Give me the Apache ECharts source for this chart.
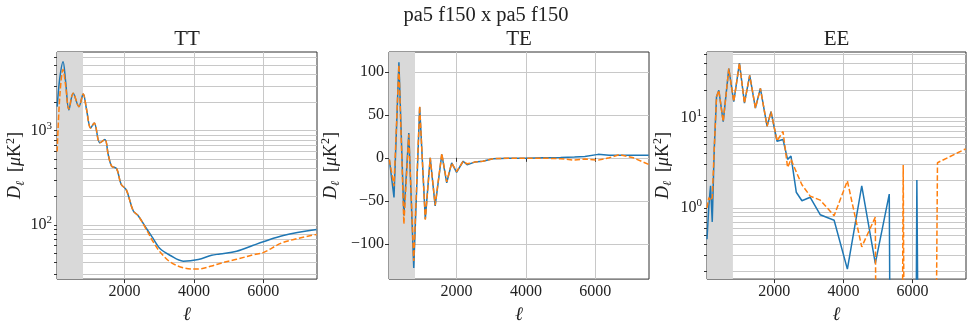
<!DOCTYPE html>
<html>
<head>
<meta charset="utf-8">
<script src="https://cdn.jsdelivr.net/npm/echarts@6/dist/echarts.min.js"></script>
<style>
  html, body { margin: 0; background: #fff; }
  #main { width: 972px; height: 329px; }
</style>
</head>
<body>
<div id="main"></div>
<script>
// multipole bins and D_ell values
const ttEll = [55, 130, 225, 300, 392, 517, 681, 805, 900, 1020, 1123, 1287, 1431, 1527, 1625, 1769, 1900, 2050, 2248, 2392, 2635, 2825, 3019, 3307, 3691, 4124, 4511, 4750, 5232, 5712, 6000, 6577, 7541];
const ttBlue = [1800, 3600, 5400, 3300, 1660, 2500, 1800, 2450, 1700, 1070, 1205, 742, 804, 559, 421, 396, 270, 235, 141, 125, 90.8, 71.3, 55.9, 47.5, 41.1, 42.8, 47.5, 49, 52.4, 60.6, 66, 77, 89];
const ttOrange = [600, 2300, 4460, 3000, 1700, 2500, 1800, 2450, 1700, 1070, 1205, 742, 804, 559, 421, 396, 270, 235, 141, 125, 88, 65.8, 51.7, 40.5, 35, 33.9, 36.5, 38.9, 43, 48, 50.7, 65, 79];

const teEll = [60, 194, 336, 479, 621, 764, 935, 1097, 1239, 1382, 1573, 1715, 1858, 2000, 2189, 2302, 2521, 2758, 3043, 3500, 4000, 4500, 5000, 5400, 5700, 6083, 6400, 6700, 7100, 7541];
const teBlue = [-2, -46, 111, -67, 28.7, -128, 59, -71, 0, -56, 4, -29, -6, -17, -4, -8, -5, -4, -1, -0.5, -0.5, 0, 0.5, 1, 1.5, 4, 3, 3, 3, 3];
const teOrange = [-2, -33, 108, -77, 27, -120, 60, -72, 0, -55, 5, -28, -6, -16, -4, -7, -5, -4, -1, -0.5, -0.5, -0.5, -1, -2.7, -1.5, -2.7, 0, 3.8, 0, -7.7];

const eeEll = [50, 104, 153, 202, 260, 326, 393, 519, 681, 825, 990, 1134, 1287, 1452, 1596, 1789, 1904, 2078, 2251, 2384, 2482, 2635, 2799, 3039, 3328, 3731, 4115, 4531, 4924, 5328, 5732, 6127, 6724, 7541];
const eeBlue = [0.45, 1.06, 1.75, 0.7, 4.5, 17, 20, 9, 34.7, 15, 40, 14.4, 29.3, 12.7, 21, 8, 11.6, 5.46, 5.7, 3.44, 3.74, 1.49, 1.2, 1.31, 0.84, 0.73, 0.21, 1.75, 0.243, 1.42, -1, 2.04, -1, -1];
const eeOrange = [1.0, 1.3, 1.2, 1.3, 4.5, 17, 20, 9, 34.7, 15, 40, 14.4, 29.3, 12.7, 21, 8, 11.6, 5.5, 7.0, 2.8, 3.44, 2.5, 1.8, 1.35, 1.22, 0.82, 1.99, 0.37, 0.79, -1, 2.98, -1, 3.16, 4.5];

const ellMin = 50, ellMax = 7550, shadeMax = 800;
const xTicks = [2000, 4000, 6000];
const teTicks = [-100, -50, 0, 50, 100];

const FONT = 'Liberation Serif';
const BLUE = '#1f77b4', ORANGE = '#ff7f0e';
const GRIDC = '#c8c8c8';
const TXT = '#222';

// matplotlib style log grid: 1..9 x 10^n inside [lo, hi]
function logGrid(lo, hi) {
  const out = [];
  for (let e = Math.floor(Math.log10(lo)); e <= Math.ceil(Math.log10(hi)); e++) {
    for (let m = 1; m < 10; m++) {
      const v = m * Math.pow(10, e);
      if (v >= lo && v <= hi) out.push(+v.toPrecision(3));
    }
  }
  return out;
}
function logMajors(lo, hi) {
  return logGrid(lo, hi).filter(v => Math.abs(Math.log10(v) - Math.round(Math.log10(v))) < 1e-9);
}

// log scale clips non-positive values, like matplotlib does
function pts(ell, vals, isLog) {
  return ell.map((l, i) => [l, isLog && vals[i] <= 0 ? 1e-30 : vals[i]]);
}

const panels = [
  { key: 'TT', left: 57, width: 260, log: true, yMin: 26.5, yMax: 6850, ell: ttEll, blue: ttBlue, orange: ttOrange, nameGap: 30, smooth: 0.35 },
  { key: 'TE', left: 389, width: 260, log: false, yMin: -141, yMax: 123, ell: teEll, blue: teBlue, orange: teOrange, nameGap: 47, smooth: false },
  { key: 'EE', left: 707, width: 259, log: true, yMin: 0.163, yMax: 53, ell: eeEll, blue: eeBlue, orange: eeOrange, nameGap: 33, smooth: false }
];
const gridTop = 52, gridH = 229;

const grid = [], xAxis = [], yAxis = [], series = [], graphic = [];

graphic.push({
  type: 'text', x: 486, y: 5,
  style: { text: 'pa5 f150 x pa5 f150', font: '20.5px "' + FONT + '"', fill: TXT, textAlign: 'center' }
});

const tickRich = {
  b: { fontFamily: FONT, fontSize: 16, color: TXT, lineHeight: 20 },
  s: { fontFamily: FONT, fontSize: 11, color: TXT, verticalAlign: 'top', lineHeight: 20 }
};
const nameRich = {
  i: { fontFamily: FONT, fontSize: 18, fontStyle: 'italic', color: TXT, lineHeight: 22 },
  r: { fontFamily: FONT, fontSize: 18, color: TXT, lineHeight: 22 },
  sub: { fontFamily: FONT, fontSize: 12, fontStyle: 'italic', color: TXT, verticalAlign: 'bottom', lineHeight: 22 },
  sup: { fontFamily: FONT, fontSize: 12, color: TXT, verticalAlign: 'top', lineHeight: 22 }
};
const yName = '{i|D}{sub|ℓ}{r|  [}{i|μ}{r|K}{sup|2}{r|]}';

panels.forEach((p, i) => {
  grid.push({ left: p.left, top: gridTop, width: p.width, height: gridH, show: true, borderColor: '#333', borderWidth: 1, backgroundColor: 'transparent' });
  graphic.push({
    type: 'text', x: p.left + p.width / 2, y: 29,
    style: { text: p.key, font: '21px "' + FONT + '"', fill: TXT, textAlign: 'center' }
  });

  xAxis.push({
    type: 'value', gridIndex: i, min: ellMin, max: ellMax,
    name: 'ℓ', nameLocation: 'middle', nameGap: 22,
    nameTextStyle: { fontFamily: FONT, fontSize: 19, fontStyle: 'italic', color: TXT },
    axisLine: { show: false },
    axisTick: { show: true, length: 4, lineStyle: { color: '#333' }, customValues: xTicks },
    axisLabel: { customValues: xTicks, fontFamily: FONT, fontSize: 16, color: TXT, margin: 5, formatter: v => String(v) },
    splitLine: { show: true, lineStyle: { color: GRIDC, width: 1 } }
  });

  const common = {
    gridIndex: i, min: p.yMin, max: p.yMax,
    name: yName, nameLocation: 'middle', nameGap: p.nameGap, nameRotate: 90,
    nameTextStyle: { fontFamily: FONT, fontSize: 18, color: TXT, rich: nameRich },
    axisLine: { show: false },
    splitLine: { show: true, lineStyle: { color: GRIDC, width: 1 } }
  };

  if (p.log) {
    yAxis.push(Object.assign({
      type: 'log', logBase: 10,
      axisTick: { show: true, length: 3, lineStyle: { color: '#333' }, customValues: logGrid(p.yMin, p.yMax) },
      axisLabel: {
        customValues: logMajors(p.yMin, p.yMax), margin: 5, rich: tickRich,
        formatter: v => '{b|10}{s|' + Math.round(Math.log10(v)) + '}'
      }
    }, common));
  } else {
    yAxis.push(Object.assign({
      type: 'value',
      axisTick: { show: true, length: 4, lineStyle: { color: '#333' }, customValues: teTicks },
      axisLabel: {
        customValues: teTicks, fontFamily: FONT, fontSize: 16, color: TXT, margin: 5,
        formatter: v => v < 0 ? '−' + Math.abs(v) : String(v)
      }
    }, common));
  }

  series.push({
    type: 'line', xAxisIndex: i, yAxisIndex: i, data: pts(p.ell, p.blue, p.log),
    showSymbol: false, smooth: p.smooth, clip: true, z: 3,
    lineStyle: { color: BLUE, width: 1.5 }, itemStyle: { color: BLUE },
    markArea: {
      silent: true, z: 1,
      itemStyle: { color: '#d9d9d9' },
      data: [[{ xAxis: ellMin }, { xAxis: shadeMax }]]
    }
  });
  series.push({
    type: 'line', xAxisIndex: i, yAxisIndex: i, data: pts(p.ell, p.orange, p.log),
    showSymbol: false, smooth: p.smooth, clip: true, z: 4,
    lineStyle: { color: ORANGE, width: 1.5, type: [5.5, 2.4] }, itemStyle: { color: ORANGE }
  });
});

const chart = echarts.init(document.getElementById('main'));
chart.setOption({
  backgroundColor: '#fff',
  animation: false,
  grid: grid,
  xAxis: xAxis,
  yAxis: yAxis,
  series: series,
  graphic: graphic
});
</script>
</body>
</html>
